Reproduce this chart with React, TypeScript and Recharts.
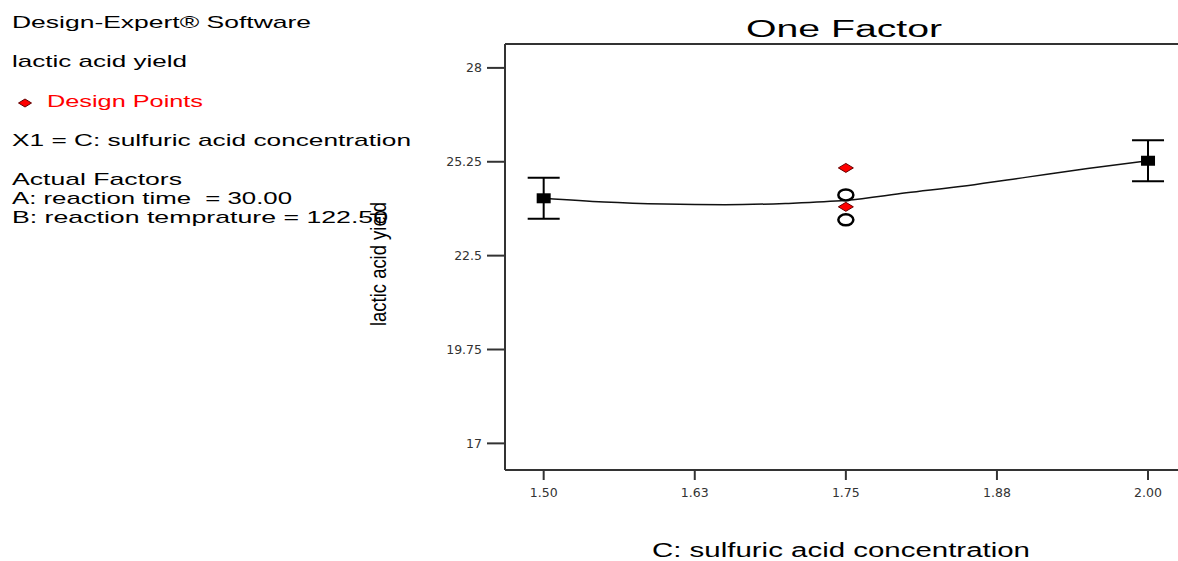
import React from 'react';
import { ComposedChart, Line, Scatter, ErrorBar, XAxis, YAxis, ReferenceLine } from 'recharts';

// factor levels with their predicted means and error half-widths
const levels = [1.5, 2.0];
const levelMeans = [24.18, 25.28];
const levelErrors = [0.6, 0.6];

// fitted curve
const curveX = [1.5, 1.55, 1.6, 1.65, 1.7, 1.75, 1.8, 1.85, 1.9, 1.95, 2.0];
const curveY = [24.18, 24.07, 24.01, 23.99, 24.03, 24.12, 24.34, 24.55, 24.8, 25.05, 25.28];

// design points at the centre level
const designX = [1.75, 1.75];
const designY = [25.07, 23.93];
const openX = [1.75, 1.75];
const openY = [24.28, 23.55];

const xTicks = [1.5, 1.625, 1.75, 1.875, 2.0];
const xTickLabels = ['1.50', '1.63', '1.75', '1.88', '2.00'];
const yTicks = [17, 19.75, 22.5, 25.25, 28];
const yMax = 28.7;

const means = levels.map((x, i) => ({ x, y: levelMeans[i], err: levelErrors[i] }));
const curve = curveX.map((x, i) => ({ x, y: curveY[i] }));
const design = designX.map((x, i) => ({ x, y: designY[i] }));
const open = openX.map((x, i) => ({ x, y: openY[i] }));

const AXIS = '#333';

const MeanSquare = (p: any) => <rect x={p.cx - 7} y={p.cy - 5} width={14} height={10} fill="#000" />;

const Diamond = (p: any) => (
  <polygon
    points={`${p.cx - 7.5},${p.cy} ${p.cx},${p.cy - 4.5} ${p.cx + 7.5},${p.cy} ${p.cx},${p.cy + 4.5}`}
    fill="#ff0000"
    stroke="#600"
    strokeWidth={1}
  />
);

const OpenCircle = (p: any) => (
  <ellipse cx={p.cx} cy={p.cy} rx={7.5} ry={5.5} fill="#fff" stroke="#000" strokeWidth={2.5} />
);

const textFont = '"Liberation Sans", Arial, sans-serif';
const tickStyle = { fontSize: 12.5, fill: '#333', fontFamily: '"DejaVu Sans", sans-serif' };

export default function App() {
  return (
    <div style={{ position: 'absolute', left: 0, top: 0, width: 1178, height: 561, background: '#fff' }}>
      <ComposedChart width={1178} height={561} margin={{ top: 44, right: 0, bottom: 51, left: 0 }}>
        <XAxis
          dataKey="x"
          type="number"
          domain={[1.468, 2.0248]}
          ticks={xTicks}
          tickFormatter={(v: number) => xTickLabels[xTicks.indexOf(v)] ?? String(v)}
          allowDataOverflow
          height={40}
          tickSize={10}
          tickMargin={8}
          stroke={AXIS}
          axisLine={{ stroke: AXIS, strokeWidth: 2 }}
          tickLine={{ stroke: AXIS, strokeWidth: 2 }}
          tick={tickStyle}
        />
        <YAxis
          type="number"
          domain={[16.22, yMax]}
          ticks={yTicks}
          allowDataOverflow
          width={505}
          tickSize={18}
          tickMargin={5}
          stroke={AXIS}
          axisLine={{ stroke: AXIS, strokeWidth: 2 }}
          tickLine={{ stroke: AXIS, strokeWidth: 2 }}
          tick={tickStyle}
        />
        <ReferenceLine y={yMax} stroke={AXIS} strokeWidth={2} />
        <Line
          data={curve}
          dataKey="y"
          type="monotone"
          stroke="#111"
          strokeWidth={1.5}
          dot={false}
          activeDot={false}
          isAnimationActive={false}
        />
        <Scatter data={means} dataKey="y" shape={MeanSquare} isAnimationActive={false}>
          <ErrorBar dataKey="err" direction="y" width={16} stroke="#000" strokeWidth={2} />
        </Scatter>
        <Scatter data={open} dataKey="y" shape={OpenCircle} isAnimationActive={false} />
        <Scatter data={design} dataKey="y" shape={Diamond} isAnimationActive={false} />
      </ComposedChart>

      <svg
        width={1178}
        height={561}
        style={{ position: 'absolute', left: 0, top: 0, pointerEvents: 'none' }}
        fontFamily={textFont}
      >
        <g fontSize={17} fill="#000">
          <text x={12} y={28} textLength={299} lengthAdjust="spacingAndGlyphs">Design-Expert® Software</text>
          <text x={12} y={67} textLength={175} lengthAdjust="spacingAndGlyphs">lactic acid yield</text>
          <polygon points="18.5,103 25,99 31.5,103 25,107" fill="#ff0000" stroke="#600" strokeWidth={1} />
          <text x={47} y={107} textLength={156} lengthAdjust="spacingAndGlyphs" fill="#ff0000">Design Points</text>
          <text x={12} y={146} textLength={399} lengthAdjust="spacingAndGlyphs">X1 = C: sulfuric acid concentration</text>
          <text x={12} y={185} textLength={170} lengthAdjust="spacingAndGlyphs">Actual Factors</text>
          <text x={12} y={204} textLength={280} lengthAdjust="spacingAndGlyphs" style={{ whiteSpace: 'pre' }}>A: reaction time  = 30.00</text>
          <text x={12} y={223} textLength={376} lengthAdjust="spacingAndGlyphs">B: reaction temprature = 122.50</text>
        </g>
        <text x={746} y={37} fontSize={23} textLength={196} lengthAdjust="spacingAndGlyphs" fill="#000">One Factor</text>
        <text x={652} y={557} fontSize={20} textLength={378} lengthAdjust="spacingAndGlyphs" fill="#000">C: sulfuric acid concentration</text>
        <text
          x={0}
          y={0}
          fontSize={22}
          textLength={124}
          lengthAdjust="spacingAndGlyphs"
          fill="#000"
          transform="translate(386, 326) rotate(-90)"
        >
          lactic acid yield
        </text>
      </svg>
    </div>
  );
}
